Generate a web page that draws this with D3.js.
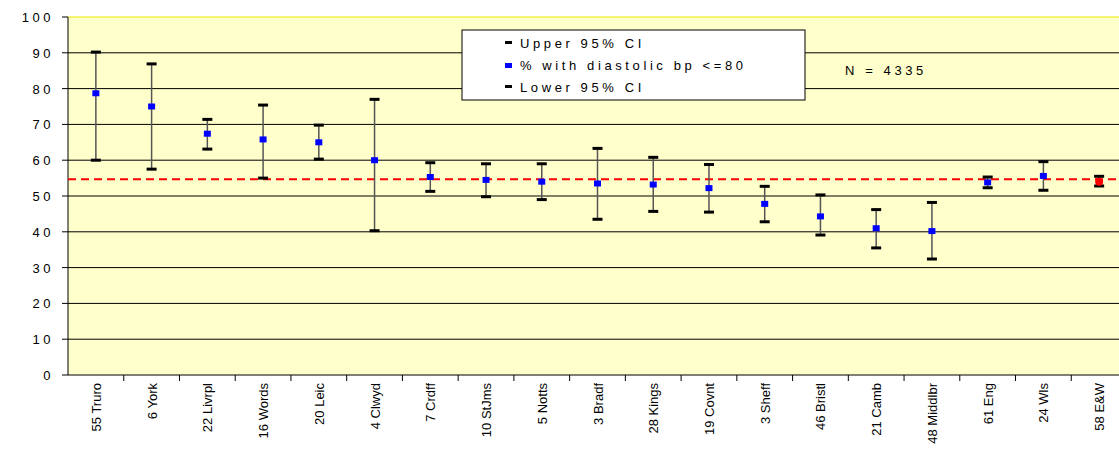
<!DOCTYPE html><html><head><script src="https://cdn.jsdelivr.net/npm/d3@7"></script>
<style>body{margin:0;background:#fff}text{font-family:"Liberation Sans",Arial,sans-serif}</style></head><body>
<svg id="c" width="1119" height="457"></svg>
<script>
const categories=["55 Truro","6 York","22 Livrpl","16 Words","20 Leic","4 Clwyd","7 Crdff","10 StJms","5 Notts","3 Bradf","28 Kings","19 Covnt","3 Sheff","46 Bristl","21 Camb","48 Middlbr","61 Eng","24 Wls","58 E&W"];
const upper=[90.2,86.9,71.4,75.4,69.8,77,59.3,59,59,63.3,60.8,58.8,52.7,50.3,46.2,48.2,55.3,59.6,55.5];
const pct=[78.7,75,67.4,65.8,65,60,55.3,54.5,54,53.5,53.2,52.2,47.8,44.3,41,40.2,53.8,55.6,54];
const lower=[60,57.5,63.1,55,60.3,40.3,51.3,49.8,49,43.5,45.7,45.5,42.8,39.1,35.5,32.4,52.3,51.6,52.8];
const refLine=54.7;
const yTicks=[0,10,20,30,40,50,60,70,80,90,100];
const svg=d3.select("#c");
const L=68,R=1127,W=1119,T=17,B=375;
const x=d3.scaleBand().domain(categories).range([L,R]);
const y=d3.scaleLinear().domain([0,100]).range([B,T]);
svg.append("rect").attr("x",L).attr("y",T).attr("width",W-L).attr("height",B-T).attr("fill","#FFFFCC");
svg.append("line").attr("x1",L).attr("x2",W).attr("y1",T).attr("y2",T).attr("stroke","#e8e800");
svg.selectAll(".g").data(yTicks.filter(d=>d>0&&d<100)).enter().append("line").attr("x1",L).attr("x2",W).attr("y1",d=>y(d)).attr("y2",d=>y(d)).attr("stroke","#000").attr("stroke-width",1);
svg.append("line").attr("x1",L).attr("x2",W).attr("y1",B).attr("y2",B).attr("stroke","#000");
svg.append("line").attr("x1",L).attr("x2",L).attr("y1",T).attr("y2",B).attr("stroke","#000");
yTicks.forEach(t=>{svg.append("line").attr("x1",L-6).attr("x2",L).attr("y1",y(t)).attr("y2",y(t)).attr("stroke","#000");
svg.append("text").attr("x",L-14).attr("y",y(t)+5).attr("text-anchor","end").attr("font-size",13).attr("letter-spacing",3.5).text(t);});
categories.forEach((c,i)=>{if(i>0)svg.append("line").attr("x1",x(c)).attr("x2",x(c)).attr("y1",B).attr("y2",B+6).attr("stroke","#000");});
svg.selectAll(".xl").data(categories).enter().append("text").attr("font-size",13)
 .attr("transform",d=>`translate(${x(d)+x.bandwidth()/2+5},${B+8}) rotate(-90)`).attr("text-anchor","end").text(d=>d);
svg.append("line").attr("x1",L).attr("x2",W).attr("y1",y(refLine)).attr("y2",y(refLine)).attr("stroke","#f00").attr("stroke-width",2).attr("stroke-dasharray","8,5");
categories.forEach((c,i)=>{const cx=x(c)+x.bandwidth()/2;
 svg.append("line").attr("x1",cx).attr("x2",cx).attr("y1",y(upper[i])).attr("y2",y(lower[i])).attr("stroke","#555").attr("stroke-width",1.5);
 [upper[i],lower[i]].forEach(v=>svg.append("line").attr("x1",cx-5).attr("x2",cx+5).attr("y1",y(v)).attr("y2",y(v)).attr("stroke","#000").attr("stroke-width",3));
 if(i==categories.length-1) svg.append("circle").attr("cx",cx).attr("cy",y(pct[i])).attr("r",4).attr("fill","#f00");
 else svg.append("rect").attr("x",cx-3.5).attr("y",y(pct[i])-3).attr("width",7).attr("height",6).attr("fill","#00f");
});
const lg=svg.append("g");
lg.append("rect").attr("x",462).attr("y",30).attr("width",343).attr("height",70).attr("fill","#fff").attr("stroke","#000");
[["Upper 95% CI","#000",43],["% with diastolic bp <=80","#00f",65],["Lower 95% CI","#000",87]].forEach(([t,col,yy])=>{
 lg.append("rect").attr("x",505).attr("y",yy-2).attr("width",7).attr("height",col=="#00f"?5:3).attr("fill",col);
 lg.append("text").attr("x",520).attr("y",yy+5).attr("font-size",13).attr("letter-spacing",3.6).text(t);});
svg.append("text").attr("x",845).attr("y",75).attr("font-size",13).attr("letter-spacing",3.6).text("N = 4335");
</script></body></html>
